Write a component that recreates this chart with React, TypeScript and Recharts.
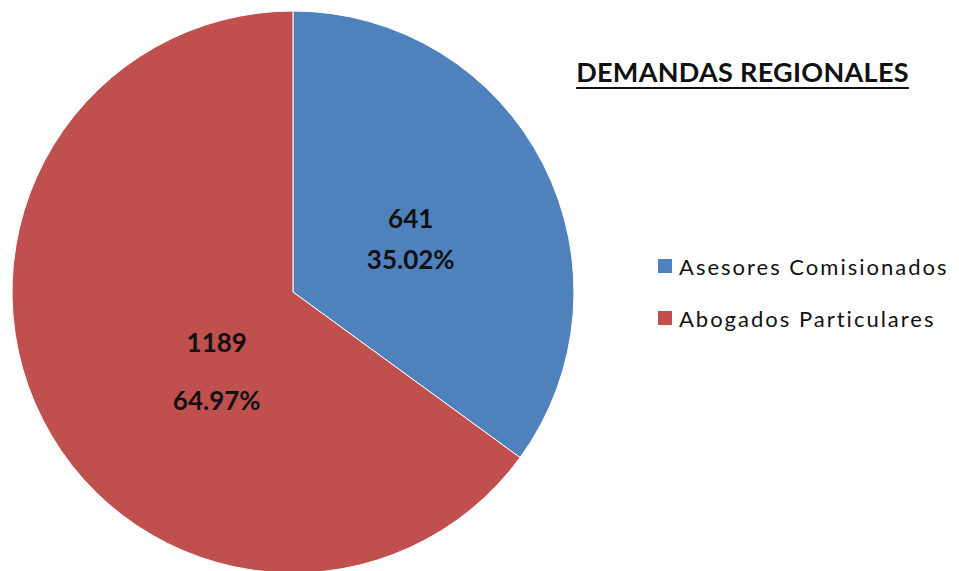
import { PieChart, Pie, Cell } from "recharts";

const CATEGORIES = ["Asesores Comisionados", "Abogados Particulares"];
const VALUES = [641, 1189];
const PCT_LABELS = ["35.02%", "64.97%"];
const COLORS = ["#4F81BD", "#C0504D"];

// where each slice's two-line label sits (polar, relative to the pie)
const LABEL_PLACE = [
  { angle: 24.4, frac: 0.46, gap: 41 },
  { angle: 225.9, frac: 0.39, gap: 58 },
];

const data = CATEGORIES.map((name, i) => ({ name, value: VALUES[i] }));

const RAD = Math.PI / 180;

function renderLabel(props: any) {
  const { cx, cy, outerRadius, index, value } = props;
  const place = LABEL_PLACE[index];
  const r = outerRadius * place.frac;
  const x = cx + r * Math.cos(place.angle * RAD);
  const y = cy - r * Math.sin(place.angle * RAD);
  const style = {
    fontFamily: "Lato, sans-serif",
    fontWeight: 700,
    fontSize: 26,
    fill: "#111",
  };
  return (
    <g>
      <text x={x} y={y - place.gap / 2} textAnchor="middle" dominantBaseline="central" style={style}>
        {value}
      </text>
      <text x={x} y={y + place.gap / 2} textAnchor="middle" dominantBaseline="central" style={style}>
        {PCT_LABELS[index]}
      </text>
    </g>
  );
}

function ChartLegend() {
  return (
    <div style={{ position: "absolute", left: 658, top: 253 }}>
      {CATEGORIES.map((name, i) => (
        <div
          key={name}
          style={{ display: "flex", alignItems: "center", height: 26, marginBottom: i === 0 ? 26 : 0 }}
        >
          <span
            style={{
              display: "inline-block",
              width: 14,
              height: 14,
              background: COLORS[i],
              marginRight: 7,
            }}
          />
          <span
            style={{
              fontFamily: "Lato, sans-serif",
              fontSize: 22,
              color: "#111",
              letterSpacing: 2,
              whiteSpace: "nowrap",
            }}
          >
            {name}
          </span>
        </div>
      ))}
    </div>
  );
}

export default function App() {
  return (
    <div style={{ position: "absolute", left: 0, top: 0, width: 959, height: 571, background: "#fff" }}>
      <PieChart width={959} height={571} margin={{ top: 0, right: 0, bottom: 0, left: 0 }}>
        <Pie
          data={data}
          dataKey="value"
          nameKey="name"
          cx={293}
          cy={292}
          outerRadius={281}
          startAngle={90}
          endAngle={-270}
          stroke="#fff"
          strokeWidth={1}
          label={renderLabel}
          labelLine={false}
          isAnimationActive={false}
        >
          {data.map((d, i) => (
            <Cell key={d.name} fill={COLORS[i]} />
          ))}
        </Pie>
      </PieChart>
      <ChartLegend />
      <div
        style={{
          position: "absolute",
          left: 560,
          top: 55,
          width: 365,
          textAlign: "center",
          fontFamily: "Lato, sans-serif",
          fontWeight: 700,
          fontSize: 27,
          letterSpacing: 0.3,
          color: "#111",
          textDecoration: "underline",
          textUnderlineOffset: 5,
          whiteSpace: "nowrap",
        }}
      >
        DEMANDAS REGIONALES
      </div>
    </div>
  );
}
